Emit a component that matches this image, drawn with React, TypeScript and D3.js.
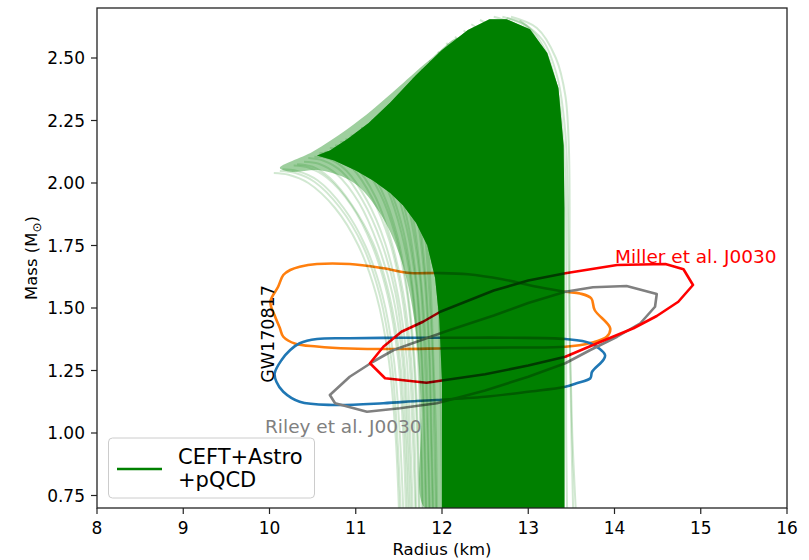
import React from 'react';
import * as d3 from 'd3';

type Pt = [number, number]; // [radius (km), mass (Msun)]

const WIDTH = 809;
const HEIGHT = 560;
const FRAME = { left: 97, right: 787, top: 8, bottom: 508 };

const radiusDomain: [number, number] = [8, 16];
const massDomain: [number, number] = [0.7, 2.7];
const radiusTicks = [8, 9, 10, 11, 12, 13, 14, 15, 16];
const massTicks = [0.75, 1.0, 1.25, 1.5, 1.75, 2.0, 2.25, 2.5];

// Region where the CEFT+Astro+pQCD mass-radius curves pile up completely
const ensembleCore: Pt[] = [
  [12.0, 0.7], [13.42, 0.7], [13.42, 1.9], [13.41, 2.15], [13.35, 2.38], [13.22, 2.52],
  [13.02, 2.615], [12.75, 2.655], [12.55, 2.655], [12.3, 2.612], [12.0, 2.532], [11.7, 2.432],
  [11.4, 2.322], [11.15, 2.24], [10.9, 2.175], [10.7, 2.13], [10.55, 2.11], [10.75, 2.09],
  [11.0, 2.05], [11.2, 2.01], [11.4, 1.96], [11.55, 1.91], [11.7, 1.84], [11.83, 1.75],
  [11.92, 1.62], [11.97, 1.45], [12.0, 1.2],
];

// Partly covered band on the low-radius side of the core
const ensembleHalo: Pt[] = [
  [11.8, 0.7], [11.76, 1.1], [11.68, 1.45], [11.52, 1.7], [11.28, 1.88], [10.98, 2.0],
  [10.6, 2.05], [10.25, 2.045], [10.12, 2.06], [10.5, 2.125], [10.9, 2.215], [11.2, 2.295],
  [11.5, 2.385], [11.9, 2.505], [12.2, 2.58], [12.3, 2.5], [12.1, 1.0], [12.1, 0.7],
];

// Individual mass-radius curves at the edges of the ensemble
const ensembleCurves: Pt[][] = [
  [[11.5, 0.7], [11.46, 1.0], [11.38, 1.3], [11.24, 1.55], [11.03, 1.75], [10.76, 1.9], [10.45, 2.0], [10.22, 2.033], [10.05, 2.04]],
  [[11.52, 0.7], [11.48, 1.0], [11.41, 1.3], [11.28, 1.55], [11.08, 1.75], [10.82, 1.9], [10.52, 2.005], [10.3, 2.04], [10.12, 2.048]],
  [[11.55, 0.7], [11.51, 1.0], [11.44, 1.3], [11.31, 1.55], [11.11, 1.75], [10.86, 1.9], [10.56, 2.01], [10.32, 2.048], [10.15, 2.055]],
  [[11.58, 0.7], [11.55, 1.0], [11.49, 1.3], [11.37, 1.55], [11.19, 1.75], [10.95, 1.91], [10.67, 2.02], [10.45, 2.062], [10.28, 2.07]],
  [[11.6, 0.7], [11.57, 1.0], [11.51, 1.3], [11.39, 1.55], [11.2, 1.76], [10.96, 1.91], [10.7, 2.02], [10.5, 2.065], [10.32, 2.075]],
  [[11.62, 0.7], [11.59, 1.0], [11.54, 1.3], [11.43, 1.55], [11.26, 1.75], [11.04, 1.92], [10.78, 2.035], [10.57, 2.077], [10.4, 2.085]],
  [[11.64, 0.7], [11.61, 1.0], [11.56, 1.3], [11.46, 1.56], [11.3, 1.76], [11.08, 1.93], [10.84, 2.045], [10.62, 2.09], [10.45, 2.1]],
  [[11.66, 0.7], [11.63, 1.0], [11.59, 1.3], [11.49, 1.55], [11.34, 1.76], [11.13, 1.93], [10.89, 2.05], [10.69, 2.097], [10.52, 2.105]],
  [[11.69, 0.7], [11.66, 1.0], [11.62, 1.3], [11.53, 1.56], [11.39, 1.77], [11.19, 1.94], [10.96, 2.06], [10.77, 2.11], [10.58, 2.12]],
  [[11.7, 0.7], [11.68, 1.0], [11.64, 1.3], [11.55, 1.56], [11.41, 1.77], [11.22, 1.95], [10.99, 2.07], [10.8, 2.117], [10.64, 2.125]],
  [[11.73, 0.7], [11.71, 1.0], [11.67, 1.3], [11.59, 1.57], [11.46, 1.79], [11.28, 1.96], [11.06, 2.08], [10.87, 2.13], [10.7, 2.14]],
  [[11.74, 0.7], [11.72, 1.0], [11.68, 1.3], [11.6, 1.57], [11.48, 1.79], [11.3, 1.97], [11.09, 2.09], [10.91, 2.142], [10.76, 2.15]],
  [[11.77, 0.7], [11.75, 1.0], [11.72, 1.3], [11.65, 1.58], [11.53, 1.8], [11.36, 1.98], [11.16, 2.1], [10.98, 2.155], [10.82, 2.165]],
  [[11.78, 0.7], [11.76, 1.0], [11.73, 1.3], [11.66, 1.58], [11.55, 1.81], [11.38, 1.99], [11.18, 2.115], [11.02, 2.167], [10.88, 2.175]],
  [[11.81, 0.7], [11.79, 1.0], [11.76, 1.3], [11.7, 1.59], [11.59, 1.82], [11.44, 2.0], [11.25, 2.13], [11.09, 2.18], [10.94, 2.19]],
  [[11.82, 0.7], [11.8, 1.0], [11.77, 1.3], [11.71, 1.59], [11.61, 1.83], [11.46, 2.02], [11.27, 2.14], [11.13, 2.192], [11.0, 2.2]],
  [[11.85, 0.7], [11.83, 1.0], [11.8, 1.3], [11.75, 1.6], [11.65, 1.84], [11.51, 2.04], [11.33, 2.16], [11.19, 2.21], [11.06, 2.22]],
  [[11.86, 0.7], [11.84, 1.0], [11.82, 1.3], [11.76, 1.6], [11.67, 1.85], [11.53, 2.05], [11.36, 2.17], [11.24, 2.222], [11.12, 2.23]],
  [[11.89, 0.7], [11.87, 1.0], [11.85, 1.3], [11.8, 1.61], [11.71, 1.87], [11.58, 2.07], [11.42, 2.19], [11.3, 2.24], [11.18, 2.25]],
  [[11.9, 0.7], [11.88, 1.0], [11.86, 1.3], [11.81, 1.62], [11.73, 1.88], [11.61, 2.08], [11.45, 2.2], [11.35, 2.252], [11.24, 2.26]],
  [[11.93, 0.7], [11.91, 1.0], [11.89, 1.3], [11.84, 1.63], [11.77, 1.9], [11.65, 2.1], [11.5, 2.22], [11.4, 2.27], [11.3, 2.28]],
  [[11.94, 0.7], [11.93, 1.0], [11.9, 1.3], [11.86, 1.64], [11.79, 1.91], [11.68, 2.11], [11.54, 2.23], [11.45, 2.282], [11.36, 2.29]],
  [[12.0, 0.7], [11.99, 1.0], [11.97, 1.4], [11.93, 1.72], [11.86, 1.97], [11.75, 2.15], [11.6, 2.27], [11.5, 2.31], [11.42, 2.32]],
  [[12.05, 0.7], [12.04, 1.0], [12.02, 1.4], [11.98, 1.75], [11.9, 2.0], [11.78, 2.18], [11.63, 2.3], [11.5, 2.34]],
  [[12.12, 0.7], [12.11, 1.0], [12.09, 1.4], [12.05, 1.78], [11.97, 2.03], [11.85, 2.22], [11.71, 2.34], [11.58, 2.385]],
  [[12.2, 0.7], [12.19, 1.0], [12.17, 1.4], [12.13, 1.8], [12.05, 2.06], [11.93, 2.25], [11.79, 2.37], [11.66, 2.42]],
  [[12.28, 0.7], [12.27, 1.0], [12.25, 1.4], [12.22, 1.8], [12.15, 2.08], [12.03, 2.28], [11.89, 2.41], [11.76, 2.455]],
  [[12.35, 0.7], [12.34, 1.0], [12.33, 1.4], [12.3, 1.8], [12.23, 2.1], [12.11, 2.31], [11.98, 2.44], [11.85, 2.49]],
  [[12.42, 0.7], [12.42, 1.0], [12.41, 1.4], [12.39, 1.8], [12.32, 2.12], [12.21, 2.34], [12.08, 2.48], [11.95, 2.525]],
  [[12.5, 0.7], [12.5, 1.0], [12.49, 1.4], [12.47, 1.8], [12.41, 2.14], [12.3, 2.37], [12.17, 2.51], [12.05, 2.56]],
  [[12.6, 0.7], [12.6, 1.0], [12.59, 1.4], [12.57, 1.8], [12.52, 2.15], [12.41, 2.4], [12.28, 2.54], [12.15, 2.585]],
  [[12.7, 0.7], [12.7, 1.0], [12.69, 1.4], [12.68, 1.8], [12.63, 2.16], [12.52, 2.42], [12.38, 2.57], [12.25, 2.61]],
  [[12.8, 0.7], [12.8, 1.0], [12.8, 1.4], [12.79, 1.8], [12.74, 2.17], [12.63, 2.44], [12.48, 2.595], [12.34, 2.635]],
  [[12.9, 0.7], [12.9, 1.0], [12.9, 1.4], [12.89, 1.8], [12.85, 2.18], [12.74, 2.46], [12.59, 2.615], [12.44, 2.652]],
  [[13.15, 0.7], [13.15, 1.0], [13.15, 1.4], [13.15, 1.8], [13.11, 2.2], [13.0, 2.48], [12.82, 2.63], [12.6, 2.665]],
  [[13.35, 0.7], [13.36, 1.0], [13.37, 1.4], [13.37, 1.8], [13.33, 2.2], [13.21, 2.47], [13.0, 2.62], [12.7, 2.665]],
  [[13.45, 0.7], [13.44, 1.0], [13.44, 1.4], [13.44, 1.8], [13.42, 2.1], [13.35, 2.35], [13.2, 2.53], [12.98, 2.63], [12.75, 2.66]],
  [[13.52, 0.7], [13.5, 1.0], [13.48, 1.4], [13.48, 1.9], [13.47, 2.15], [13.43, 2.35], [13.32, 2.5], [13.1, 2.62], [12.8, 2.665]],
  [[13.55, 0.7], [13.51, 1.0], [13.48, 1.4], [13.46, 1.9], [13.43, 2.2], [13.34, 2.42], [13.17, 2.57], [12.9, 2.65]],
];

// GW170817 credible regions (two components)
const gw170817Primary: Pt[] = [
  [13.43, 1.565], [13.1, 1.585], [12.7, 1.615], [12.3, 1.635], [11.94, 1.64], [11.63, 1.64],
  [11.32, 1.659], [10.93, 1.676], [10.55, 1.676], [10.35, 1.665], [10.24, 1.652], [10.16, 1.632],
  [10.1, 1.585], [10.01, 1.525], [10.06, 1.47], [10.12, 1.42], [10.16, 1.385], [10.3, 1.357],
  [10.55, 1.346], [10.93, 1.338], [11.5, 1.336], [12.06, 1.339], [12.8, 1.342], [13.43, 1.345],
  [13.72, 1.36], [13.91, 1.385], [13.95, 1.419], [13.77, 1.492], [13.73, 1.539], [13.6, 1.558],
];
const gw170817Secondary: Pt[] = [
  [12.09, 1.381], [11.51, 1.381], [10.93, 1.379], [10.55, 1.376], [10.35, 1.359], [10.24, 1.332],
  [10.14, 1.292], [10.06, 1.239], [10.08, 1.205], [10.16, 1.165], [10.35, 1.125], [10.74, 1.112],
  [11.32, 1.119], [11.71, 1.128], [11.94, 1.132], [12.5, 1.145], [13.0, 1.165], [13.43, 1.185],
  [13.56, 1.199], [13.72, 1.219], [13.74, 1.245], [13.87, 1.292], [13.89, 1.312], [13.72, 1.359],
  [13.43, 1.376], [12.8, 1.381],
];
// NICER J0030 regions
const millerJ0030: Pt[] = [
  [11.165, 1.279], [11.34, 1.219], [11.82, 1.201], [12.5, 1.235], [13.0, 1.27], [13.43, 1.305],
  [13.84, 1.365], [14.22, 1.419], [14.49, 1.468], [14.74, 1.525], [14.91, 1.592], [14.8, 1.655],
  [14.59, 1.676], [14.03, 1.672], [13.43, 1.639], [13.0, 1.61], [12.6, 1.57], [11.98, 1.485],
  [11.78, 1.445], [11.53, 1.405], [11.32, 1.345],
];
const rileyJ0030: Pt[] = [
  [10.7, 1.152], [10.76, 1.119], [11.13, 1.085], [11.51, 1.099], [11.94, 1.119], [12.5, 1.17],
  [13.0, 1.225], [13.43, 1.279], [13.72, 1.332], [14.03, 1.385], [14.3, 1.439], [14.47, 1.505],
  [14.49, 1.556], [14.14, 1.588], [13.75, 1.583], [13.43, 1.565], [13.0, 1.52], [12.6, 1.47],
  [12.09, 1.412], [11.82, 1.379], [11.44, 1.332], [11.2, 1.285], [10.93, 1.225],
];

const FONT = 'DejaVu Sans, sans-serif';
const GREEN = '#008000';

export default function App() {
  const x = d3.scaleLinear().domain(radiusDomain).range([FRAME.left, FRAME.right]);
  const y = d3.scaleLinear().domain(massDomain).range([FRAME.bottom, FRAME.top]);

  const smoothClosed = d3.line<Pt>().x(d => x(d[0])).y(d => y(d[1])).curve(d3.curveCatmullRomClosed.alpha(0.5));
  const linearClosed = d3.line<Pt>().x(d => x(d[0])).y(d => y(d[1])).curve(d3.curveLinearClosed);
  const curveLine = d3.line<Pt>().x(d => x(d[0])).y(d => y(d[1])).curve(d3.curveCatmullRom.alpha(0.5));

  const contours = [
    { data: gw170817Primary, color: '#ff7f0e', gen: smoothClosed },
    { data: gw170817Secondary, color: '#1f77b4', gen: smoothClosed },
    { data: rileyJ0030, color: '#808080', gen: linearClosed },
    { data: millerJ0030, color: '#ff0000', gen: linearClosed },
  ];

  return (
    <svg width={WIDTH} height={HEIGHT} style={{ position: 'absolute', left: 0, top: 0, background: '#fff' }}
      fontFamily={FONT}>
      <defs>
        <clipPath id="frame">
          <rect x={FRAME.left} y={FRAME.top} width={FRAME.right - FRAME.left} height={FRAME.bottom - FRAME.top} />
        </clipPath>
      </defs>
      <rect x={0} y={0} width={WIDTH} height={HEIGHT} fill="#fff" />
      <g clipPath="url(#frame)" style={{ isolation: 'isolate' }}>
        {contours.map((c, i) => (
          <path key={i} d={c.gen(c.data) ?? ''} fill="none" stroke={c.color} strokeWidth={2.6} strokeLinejoin="round" />
        ))}
        <g style={{ mixBlendMode: 'multiply' }}>
          <path d={smoothClosed(ensembleHalo) ?? ''} fill={GREEN} fillOpacity={0.38} />
          {ensembleCurves.map((c, i) => (
            <path key={i} d={curveLine(c) ?? ''} fill="none" stroke={GREEN} strokeOpacity={0.18} strokeWidth={2} />
          ))}
          <path d={linearClosed(ensembleCore) ?? ''} fill={GREEN} />
        </g>
        {/* green tint over lines seen through the densest part */}
        <path d={linearClosed(ensembleCore) ?? ''} fill={GREEN} fillOpacity={0.45} />
      </g>

      {/* annotations */}
      <text x={615} y={263} fontSize={18.5} fill="#ff0000">Miller et al. J0030</text>
      <text x={265} y={433} fontSize={18.5} fill="#808080">Riley et al. J0030</text>
      <text transform={`translate(274,334) rotate(-90)`} textAnchor="middle" fontSize={17.5} fill="#000">GW170817</text>

      {/* legend */}
      <rect x={108.5} y={438} width={206} height={60} rx={4} fill="#fff" fillOpacity={0.8} stroke="#cccccc" strokeWidth={1} />
      <line x1={117} x2={162} y1={469} y2={469} stroke={GREEN} strokeWidth={2.6} />
      <text x={178} y={463.5} fontSize={21} fill="#000">CEFT+Astro</text>
      <text x={178} y={486.5} fontSize={21} fill="#000">+pQCD</text>

      {/* frame */}
      <rect x={FRAME.left} y={FRAME.top} width={FRAME.right - FRAME.left} height={FRAME.bottom - FRAME.top}
        fill="none" stroke="#222" strokeWidth={1.3} />

      {/* x axis */}
      {radiusTicks.map(t => (
        <g key={t}>
          <line x1={x(t)} x2={x(t)} y1={FRAME.bottom} y2={FRAME.bottom + 6} stroke="#222" strokeWidth={1.2} />
          <text x={x(t)} y={534} textAnchor="middle" fontSize={17} fill="#000">{t}</text>
        </g>
      ))}
      <text x={(FRAME.left + FRAME.right) / 2} y={555} textAnchor="middle" fontSize={16.5} fill="#000">Radius (km)</text>

      {/* y axis */}
      {massTicks.map(t => (
        <g key={t}>
          <line x1={FRAME.left - 6} x2={FRAME.left} y1={y(t)} y2={y(t)} stroke="#222" strokeWidth={1.2} />
          <text x={85} y={y(t)} dy="0.36em" textAnchor="end" fontSize={17} fill="#000">{d3.format('.2f')(t)}</text>
        </g>
      ))}
      <text transform={`translate(37,${(FRAME.top + FRAME.bottom) / 2}) rotate(-90)`} textAnchor="middle" fontSize={16.5} fill="#000">
        Mass (M<tspan fontSize={12} dy={4}>⊙</tspan><tspan dy={-4}>)</tspan>
      </text>
    </svg>
  );
}
